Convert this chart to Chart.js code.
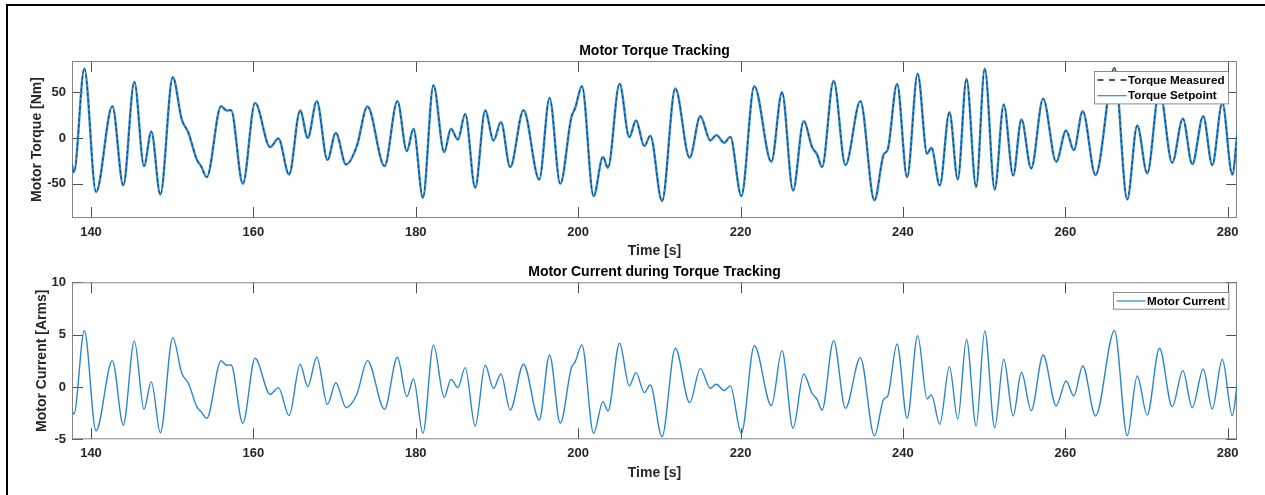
<!DOCTYPE html>
<html>
<head>
<meta charset="utf-8">
<title>Motor Torque Tracking</title>
<script src="https://cdn.jsdelivr.net/npm/chart.js@4.4.1/dist/chart.umd.min.js"></script>
<style>
  html, body { margin: 0; padding: 0; background: #fff; }
  #page { position: relative; width: 1265px; height: 495px; overflow: hidden; background: #fff; }
  canvas { position: absolute; left: 0; }
  #torqueChart { top: 0; }
  #currentChart { top: 262px; }
  #frame { position: absolute; left: 6px; top: 4px; width: 1400px; height: 600px;
           border-left: 2px solid #000; border-top: 2px solid #000; pointer-events: none; }
</style>
</head>
<body>
<div id="page">
  <canvas id="torqueChart" width="1265" height="262"></canvas>
  <canvas id="currentChart" width="1265" height="233"></canvas>
  <div id="frame"></div>
</div>
<script>
// peaks, troughs and shoulders of the logged signals
var timeSec = [
  137.6, 137.9, 139.18, 140.62, 142.63, 143.98, 145.34, 146.53, 147.43, 148.54,
  150.07, 151.18, 152.0, 153.03, 153.56, 154.26, 156.02, 156.72, 157.25, 158.7,
  160.21, 162.06, 163.08, 164.4, 165.76, 166.7, 167.81, 169.12, 170.15, 171.42,
  172.74, 174.05, 176.15, 177.74, 178.9, 179.72, 180.88, 182.18, 183.5, 184.33,
  185.19, 186.09, 187.32, 188.55, 189.58, 190.49, 191.63, 193.27, 195.21, 196.48,
  197.8, 199.15, 199.64, 200.47, 201.9, 203.06, 203.67, 205.1, 206.3, 207.12,
  208.15, 208.89, 210.33, 211.97, 213.73, 215.05, 216.28, 217.02, 218.0, 218.74,
  220.1, 221.7, 223.8, 225.11, 226.47, 227.78, 228.81, 229.43, 230.04, 231.47,
  232.92, 234.76, 236.49, 237.63, 238.13, 239.28, 240.52, 241.82, 242.98, 243.51,
  244.54, 245.73, 246.76, 247.83, 249.02, 250.08, 251.31, 252.42, 253.58, 254.6,
  255.8, 257.27, 258.88, 260.1, 261.05, 262.15, 263.72, 266.06, 267.63, 268.86,
  270.09, 271.6, 273.17, 274.48, 275.64, 276.99, 278.1, 279.34, 280.57, 281.2
];

var torqueSetpoint = [
  -28, -37.2, 76.2, -59.0, 35.0, -51.8, 61.6, -30.6, 7.2, -61.7,
  66.7, 20.4, 5.8, -23.4, -30.6, -42.7, 35.0, 30.2, 30.6, -50.0,
  38.6, -9.8, -0.4, -39.8, 30.2, 0.3, 40.5, -24.0, 5.8, -28.9,
  -8.8, 34.6, -30.6, 40.5, -14.2, 10.2, -65.3, 58.0, -15.3, 10.2,
  -1.5, 26.6, -54.4, 30.2, -2.6, 17.8, -31.7, 30.6, -45.3, 44.1,
  -50.0, 22.2, 33.2, 56.9, -63.5, -20.5, -32.5, 59.7, 1.1, 19.3,
  -8.8, 2.8, -68.9, 54.3, -21.6, 24.0, -2.6, 3.3, -5.1, 1.4,
  -63.5, 56.9, -25.9, 50.3, -57.3, 18.6, -9.8, -17.9, -31.7, 63.0,
  -29.5, 40.5, -68.2, -17.9, -12.5, 59.4, -42.7, 70.7, -17.2, -10.6,
  -51.8, 28.4, -45.3, 64.9, -53.6, 76.2, -56.2, 36.8, -40.9, 20.4,
  -33.3, 43.3, -25.9, 8.3, -13.1, 29.5, -40.5, 76.9, -67.2, 13.8,
  -38.5, 53.0, -27.0, 21.4, -28.5, 24.0, -29.5, 38.6, -39.8, 5.8
];

// measured torque follows the setpoint within the line width
var torqueMeasured = torqueSetpoint.slice();

var motorCurrent = [
  -2.2, -2.58, 5.38, -4.18, 2.52, -3.63, 4.40, -2.13, 0.51, -4.37,
  4.71, 1.31, 0.35, -1.88, -2.36, -3.0, 2.52, 2.07, 2.1, -3.47,
  2.74, -0.70, -0.06, -2.74, 2.17, 0.03, 2.84, -1.66, 0.41, -1.98,
  -0.7, 2.52, -2.13, 2.84, -0.92, 0.76, -4.43, 4.02, -0.99, 0.73,
  -0.06, 1.85, -3.73, 2.07, -0.13, 1.24, -2.2, 2.17, -3.15, 3.06,
  -3.47, 1.79, 2.42, 4.02, -4.43, -1.40, -2.29, 4.18, 0.10, 1.37,
  -0.54, 0.19, -4.75, 3.70, -1.50, 1.75, -0.13, 0.26, -0.35, 0.10,
  -4.43, 3.95, -1.79, 3.47, -3.95, 1.24, -0.60, -1.18, -2.2, 4.43,
  -2.04, 2.80, -4.68, -1.18, -0.86, 4.11, -3.0, 4.91, -1.15, -0.76,
  -3.57, 1.94, -3.09, 4.56, -3.73, 5.35, -3.89, 2.65, -2.77, 1.40,
  -2.26, 3.06, -1.79, 0.57, -0.86, 2.01, -2.77, 5.38, -4.65, 1.05,
  -2.68, 3.70, -1.88, 1.56, -1.98, 1.69, -2.10, 2.65, -2.74, 0.41
];

var timeTicks = [140, 160, 180, 200, 220, 240, 260, 280];
var torqueTicks = [-50, 0, 50];
var currentTicks = [-5, 0, 5, 10];

var FONT = '"Liberation Sans", Arial, Helvetica, sans-serif';
Chart.defaults.font.family = FONT;
Chart.defaults.color = '#262626';

function toPoints(xs, ys) {
    return xs.map(function(x, i) { return {x: x, y: ys[i]}; });
}

function fixedTicks(values) {
    return function(scale) {
        scale.ticks = values.map(function(v) { return {value: v}; });
    };
}

// box around the plot area with inward tick marks on all four sides
var axesBox = {
    id: 'axesBox',
    beforeDatasetsDraw: function(chart) {
        var ctx = chart.ctx;
        var a = chart.chartArea;
        var xs = chart.scales.x;
        var ys = chart.scales.y;
        var len = 11;
        ctx.save();
        ctx.lineWidth = 1;
        ctx.strokeStyle = '#505050';
        ctx.beginPath();
        xs.ticks.forEach(function(t) {
            var px = Math.round(xs.getPixelForValue(t.value)) + 0.5;
            ctx.moveTo(px, a.bottom);
            ctx.lineTo(px, a.bottom - len);
            ctx.moveTo(px, a.top);
            ctx.lineTo(px, a.top + len);
        });
        ys.ticks.forEach(function(t) {
            var py = Math.round(ys.getPixelForValue(t.value)) + 0.5;
            ctx.moveTo(a.left, py);
            ctx.lineTo(a.left + len, py);
            ctx.moveTo(a.right, py);
            ctx.lineTo(a.right - len, py);
        });
        ctx.stroke();
        ctx.strokeStyle = '#858585';
        ctx.strokeRect(a.left + 0.5, a.top + 0.5, a.right - a.left - 1, a.bottom - a.top - 1);
        ctx.restore();
    }
};

// legend box inside the upper right corner of the plot
var boxLegend = {
    id: 'boxLegend',
    afterDatasetsDraw: function(chart, args, opts) {
        var ctx = chart.ctx;
        var a = chart.chartArea;
        var items = chart.data.datasets;
        var rowH = 15.7;
        var sample = 29;
        ctx.save();
        ctx.font = 'bold 11.7px ' + FONT;
        var textW = 0;
        items.forEach(function(d) {
            textW = Math.max(textW, ctx.measureText(d.label).width);
        });
        var w = 3 + sample + 1.5 + textW + 4;
        var h = items.length * rowH + 1;
        var x0 = Math.round(a.right - opts.right - w) + 0.5;
        var y0 = Math.round(a.top + opts.top) + 0.5;
        ctx.fillStyle = '#fff';
        ctx.fillRect(x0, y0, w, h);
        ctx.strokeStyle = '#8c8c8c';
        ctx.lineWidth = 1;
        ctx.strokeRect(x0, y0, w, h);
        items.forEach(function(d, i) {
            var cy = y0 + 8.5 + i * rowH;
            ctx.beginPath();
            ctx.strokeStyle = d.legendColor || d.borderColor;
            ctx.lineWidth = d.legendWidth || 1.2;
            ctx.setLineDash(d.legendDash || []);
            ctx.moveTo(x0 + 3, cy);
            ctx.lineTo(x0 + 3 + sample, cy);
            ctx.stroke();
            ctx.setLineDash([]);
            ctx.fillStyle = '#000';
            ctx.textBaseline = 'middle';
            ctx.textAlign = 'left';
            ctx.fillText(d.label, x0 + 3 + sample + 1.5, cy + 0.5);
        });
        ctx.restore();
    }
};

function timeScale(height, tickPad, titlePadBottom) {
    return {
        type: 'linear',
        min: 137.66,
        max: 281.15,
        afterBuildTicks: fixedTicks(timeTicks),
        afterFit: function(s) { s.height = height; },
        grid: {display: false, drawTicks: false, tickLength: 0},
        border: {display: false},
        ticks: {
            padding: tickPad,
            maxRotation: 0,
            font: {size: 13, weight: 'bold'},
            color: '#262626'
        },
        title: {
            display: true,
            text: 'Time [s]',
            color: '#262626',
            font: {size: 14, weight: 'bold'},
            padding: {top: 0, bottom: titlePadBottom}
        }
    };
}

function valueScale(lo, hi, tickValues, titleText, titlePad) {
    return {
        min: lo,
        max: hi,
        afterBuildTicks: fixedTicks(tickValues),
        afterFit: function(s) { s.width = 72; },
        grid: {display: false, drawTicks: false, tickLength: 0},
        border: {display: false},
        ticks: {padding: 6, font: {size: 13, weight: 'bold'}, color: '#262626'},
        title: {
            display: true,
            text: titleText,
            color: '#262626',
            font: {size: 14, weight: 'bold'},
            padding: {top: titlePad, bottom: 0}
        }
    };
}

function drawTorqueChart() {
    var ctx = document.getElementById('torqueChart').getContext('2d');
    var torqueChart = new Chart(ctx, {
        type: 'line',
        data: {
            datasets: [{
                label: 'Torque Measured',
                data: toPoints(timeSec, torqueMeasured),
                borderColor: 'rgba(20, 30, 45, 0.85)',
                borderWidth: 0.9,
                borderDash: [3, 3],
                legendColor: '#1a1a1a',
                legendDash: [6, 5.5],
                legendWidth: 1.3,
                pointRadius: 0,
                cubicInterpolationMode: 'monotone'
            }, {
                label: 'Torque Setpoint',
                data: toPoints(timeSec, torqueSetpoint),
                borderColor: '#2e8ad0',
                borderWidth: 2.4,
                legendWidth: 1.2,
                pointRadius: 0,
                cubicInterpolationMode: 'monotone'
            }]
        },
        options: {
            responsive: false,
            animation: false,
            devicePixelRatio: 1,
            events: [],
            layout: {padding: {left: 0, right: 28, top: 0, bottom: 0}},
            plugins: {
                legend: {display: false},
                tooltip: {enabled: false},
                title: {
                    display: true,
                    text: 'Motor Torque Tracking',
                    fullSize: false,
                    color: '#000',
                    font: {size: 14, weight: 'bold'},
                    padding: {top: 42.6, bottom: 1.6}
                },
                boxLegend: {right: 9, top: 10}
            },
            scales: {
                x: timeScale(44, 7, 2.6),
                y: valueScale(-87.5, 84.5, torqueTicks, 'Motor Torque [Nm]', 29)
            }
        },
        plugins: [axesBox, boxLegend]
    });
}

function drawCurrentChart() {
    var ctx = document.getElementById('currentChart').getContext('2d');
    var currentChart = new Chart(ctx, {
        type: 'line',
        data: {
            datasets: [{
                label: 'Motor Current',
                data: toPoints(timeSec, motorCurrent),
                borderColor: '#2a86cc',
                borderWidth: 1.4,
                legendWidth: 1.2,
                pointRadius: 0,
                cubicInterpolationMode: 'monotone'
            }]
        },
        options: {
            responsive: false,
            animation: false,
            devicePixelRatio: 1,
            events: [],
            layout: {padding: {left: 0, right: 28, top: 0, bottom: 0}},
            plugins: {
                legend: {display: false},
                tooltip: {enabled: false},
                title: {
                    display: true,
                    text: 'Motor Current during Torque Tracking',
                    fullSize: false,
                    color: '#000',
                    font: {size: 14, weight: 'bold'},
                    padding: {top: 1.6, bottom: 1.9}
                },
                boxLegend: {right: 9, top: 9.7}
            },
            scales: {
                x: timeScale(55.7, 6.6, 13.6),
                y: valueScale(-5, 10, currentTicks, 'Motor Current [Arms]', 34)
            }
        },
        plugins: [axesBox, boxLegend]
    });
}

drawTorqueChart();
drawCurrentChart();
</script>
</body>
</html>
